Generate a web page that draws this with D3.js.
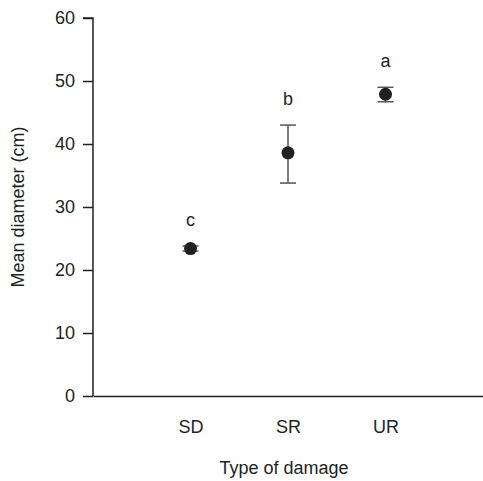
<!DOCTYPE html>
<html>
<head>
<meta charset="utf-8">
<script src="https://cdn.jsdelivr.net/npm/d3@7"></script>
<style>
  body { margin: 0; background: #fff; }
  text { font-family: "Liberation Sans", Arial, sans-serif; fill: #231f20; }
</style>
</head>
<body>
<div id="container"></div>
<script>
/* DATA */
const categories = ["SD", "SR", "UR"];
const means = [23.4, 38.6, 47.9];
const upper = [23.8, 43.0, 49.0];
const lower = [23.0, 33.8, 46.7];
const letters = ["c", "b", "a"];
const yTicks = [0, 10, 20, 30, 40, 50, 60];

const width = 483, height = 481;
const margin = { top: 18, right: 0, bottom: 85, left: 93 };
const fontSize = 18;

const data = categories.map((c, i) => ({
  cat: c, mean: means[i], hi: upper[i], lo: lower[i], letter: letters[i]
}));

const svg = d3.select("#container")
  .append("svg")
  .attr("width", width)
  .attr("height", height);

// scales
const xScale = d3.scalePoint()
  .domain(categories)
  .range([margin.left, width - margin.right])
  .padding(1);

const yScale = d3.scaleLinear()
  .domain([0, 60])
  .range([height - margin.bottom, margin.top]);

// y axis
const yAxis = d3.axisLeft(yScale).tickValues(yTicks).tickSize(10).tickPadding(8);
const gy = svg.append("g")
  .attr("transform", `translate(${margin.left},0)`)
  .call(yAxis);
gy.select(".domain").attr("d", `M-10,${yScale(60)}H0V${yScale(0)}`);

// x axis
const xAxis = d3.axisBottom(xScale).tickSize(0).tickPadding(24);
svg.append("g")
  .attr("transform", `translate(0,${yScale(0)})`)
  .call(xAxis);

svg.selectAll(".domain").attr("stroke", "#231f20").attr("stroke-width", 1.5);
svg.selectAll(".tick line").attr("stroke", "#231f20").attr("stroke-width", 1.5);
svg.selectAll(".tick text").attr("font-size", fontSize).attr("fill", "#231f20")
  .style("font-family", "'Liberation Sans', Arial, sans-serif");

// axis titles
svg.append("text")
  .attr("x", (margin.left + width) / 2 - 4)
  .attr("y", 474)
  .attr("text-anchor", "middle")
  .attr("font-size", fontSize)
  .text("Type of damage");

svg.append("text")
  .attr("transform", `translate(24,${(yScale(0) + yScale(60)) / 2})rotate(-90)`)
  .attr("text-anchor", "middle")
  .attr("font-size", fontSize)
  .text("Mean diameter (cm)");

// error bars
const eb = svg.append("g").selectAll("g")
  .data(data)
  .join("g")
  .attr("stroke", "#555")
  .attr("stroke-width", 1.5);

eb.append("line")
  .attr("x1", d => xScale(d.cat)).attr("x2", d => xScale(d.cat))
  .attr("y1", d => yScale(d.hi)).attr("y2", d => yScale(d.lo));
eb.append("line")
  .attr("x1", d => xScale(d.cat) - 8).attr("x2", d => xScale(d.cat) + 8)
  .attr("y1", d => yScale(d.hi)).attr("y2", d => yScale(d.hi));
eb.append("line")
  .attr("x1", d => xScale(d.cat) - 8).attr("x2", d => xScale(d.cat) + 8)
  .attr("y1", d => yScale(d.lo)).attr("y2", d => yScale(d.lo));

// points
svg.append("g").selectAll("circle")
  .data(data)
  .join("circle")
  .attr("cx", d => xScale(d.cat))
  .attr("cy", d => yScale(d.mean))
  .attr("r", 6.5)
  .attr("fill", "#231f20");

// significance letters
svg.append("g").selectAll("text")
  .data(data)
  .join("text")
  .attr("x", d => xScale(d.cat))
  .attr("y", d => yScale(d.hi) - 20)
  .attr("text-anchor", "middle")
  .attr("font-size", fontSize)
  .text(d => d.letter);
</script>
</body>
</html>
